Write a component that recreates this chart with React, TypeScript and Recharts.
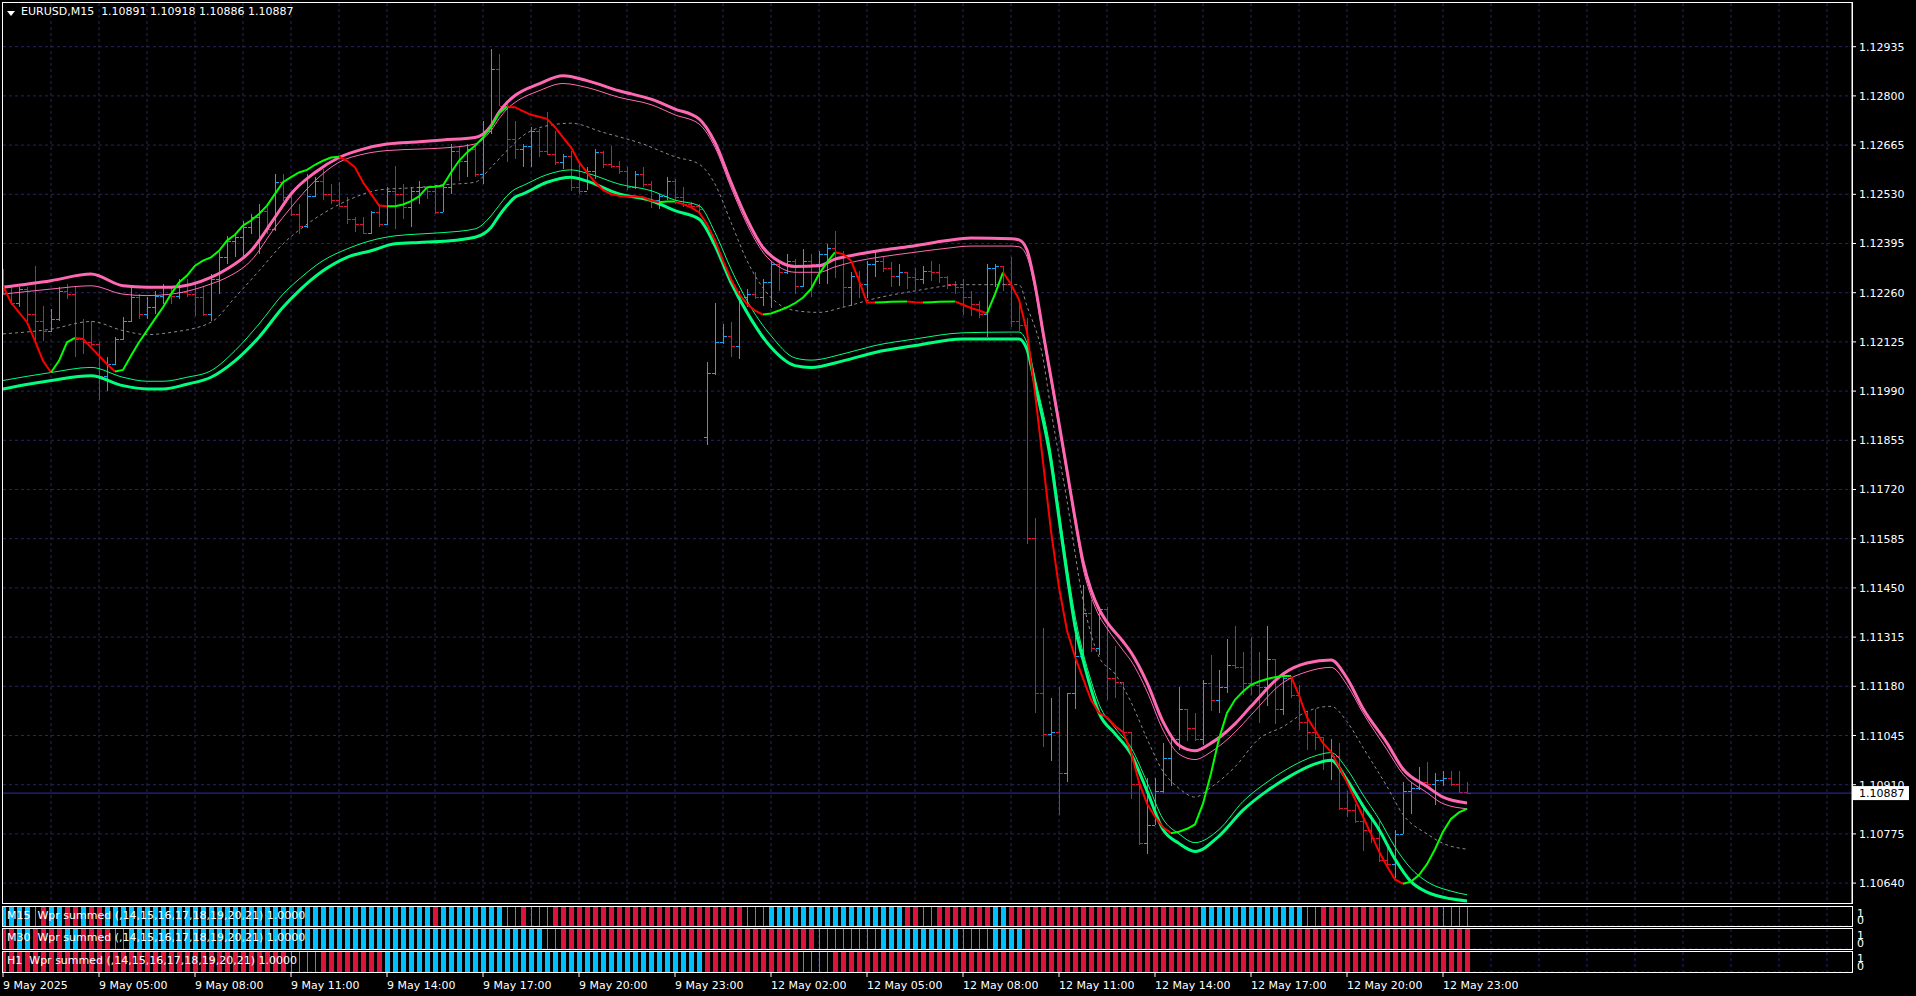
import React from 'react';
import { ComposedChart, Bar, Line, XAxis, YAxis, CartesianGrid, ReferenceLine } from 'recharts';

const FONT = '"DejaVu Sans", Verdana, sans-serif';
const CHART_W = 1916;
const AXIS_W = 64;
const X_DOMAIN: [number, number] = [0, 231.125];

const BULL = '#1aa6ee';
const BEAR = '#dc143c';
const STRIP_BLUE = '#00bfff';
const STRIP_GRAY = '#808080';
const GRID = '#24246e';
const PINK = '#ff69b4';
const SPRING = '#00ff7f';
const UP_LINE = '#00ff00';
const DN_LINE = '#ff0000';

// ---- axes ----
const priceTicks = [
  1.12935, 1.128, 1.12665, 1.1253, 1.12395, 1.1226, 1.12125, 1.1199, 1.11855,
  1.1172, 1.11585, 1.1145, 1.11315, 1.1118, 1.11045, 1.1091, 1.10775, 1.1064,
];
const priceDomain: [number, number] = [1.105854, 1.130549];
const lastPrice = 1.10887;
const header = 'EURUSD,M15  1.10891 1.10918 1.10886 1.10887';

const timeTickBars = [0, 12, 24, 36, 48, 60, 72, 84, 96, 108, 120, 132, 144, 156, 168, 180];
const timeTickLabels = [
  '9 May 2025', '9 May 05:00', '9 May 08:00', '9 May 11:00', '9 May 14:00', '9 May 17:00',
  '9 May 20:00', '9 May 23:00', '12 May 02:00', '12 May 05:00', '12 May 08:00', '12 May 11:00',
  '12 May 14:00', '12 May 17:00', '12 May 20:00', '12 May 23:00',
];
const gridBars = Array.from({ length: 38 }, (_, k) => (k + 1) * 6);

// ---- M15 bars ----
const opens = [
  1.12302, 1.12275, 1.12233, 1.1227, 1.12201, 1.12183, 1.12156, 1.12188, 1.12265, 1.12256,
  1.12133, 1.12124, 1.12119, 1.12032, 1.12064, 1.12133, 1.12183, 1.12247, 1.12201, 1.1222,
  1.12252, 1.12275, 1.12252, 1.12261, 1.12256, 1.12247, 1.12201, 1.12297, 1.12357, 1.12403,
  1.12412, 1.12439, 1.12467, 1.12485, 1.12435, 1.12563, 1.12522, 1.12476, 1.12444, 1.12526,
  1.12567, 1.12531, 1.12513, 1.12499, 1.12462, 1.12448, 1.12425, 1.12481, 1.12448, 1.1254,
  1.12531, 1.12494, 1.1254, 1.12549, 1.1254, 1.12481, 1.12549, 1.1265, 1.12622, 1.12654,
  1.12586, 1.12705, 1.12874, 1.12773, 1.12682, 1.12654, 1.12663, 1.12705, 1.1265, 1.1264,
  1.12618, 1.12636, 1.12549, 1.1254, 1.12595, 1.12645, 1.12613, 1.12608, 1.12595, 1.12549,
  1.12586, 1.12558, 1.12513, 1.12526, 1.12567, 1.12522, 1.12503, 1.12499, 1.11863, 1.12041,
  1.12124, 1.12142, 1.12115, 1.12247, 1.12256, 1.12247, 1.12288, 1.12339, 1.12316, 1.12348,
  1.12279, 1.12348, 1.12339, 1.12366, 1.12384, 1.12357, 1.12275, 1.12307, 1.12284, 1.12339,
  1.12348, 1.12329, 1.12307, 1.12316, 1.12302, 1.12297, 1.1232, 1.12316, 1.12302, 1.12284,
  1.12275, 1.12247, 1.12229, 1.12201, 1.12329, 1.12334, 1.12284, 1.12183, 1.1217, 1.11588,
  1.11161, 1.11048, 1.11054, 1.10941, 1.11161, 1.11262, 1.1138, 1.11285, 1.11392, 1.11203,
  1.11191, 1.11054, 1.10912, 1.10751, 1.10799, 1.10894, 1.10982, 1.11036, 1.11119, 1.11065,
  1.11036, 1.1119, 1.11143, 1.11178, 1.11238, 1.11232, 1.1119, 1.11184, 1.11178, 1.11256,
  1.11119, 1.11202, 1.11155, 1.11083, 1.11054, 1.11042, 1.10976, 1.10988, 1.10846, 1.1084,
  1.10811, 1.10787, 1.10763, 1.10704, 1.10692, 1.10775, 1.10894, 1.109, 1.10917, 1.10911,
  1.10923, 1.10929, 1.10912, 1.10891,
];
const highs = [
  1.12325, 1.1228, 1.12275, 1.12275, 1.12334, 1.12224, 1.12215, 1.12275, 1.12284, 1.12275,
  1.12188, 1.12183, 1.12124, 1.12083, 1.12138, 1.12192, 1.12275, 1.12256, 1.12247, 1.12265,
  1.12284, 1.12279, 1.12297, 1.12297, 1.12284, 1.12279, 1.12311, 1.12371, 1.12416, 1.12421,
  1.12458, 1.12476, 1.12503, 1.12494, 1.12586, 1.12586, 1.12531, 1.12503, 1.12586, 1.12577,
  1.12599, 1.12558, 1.12563, 1.12522, 1.12467, 1.12467, 1.12485, 1.12503, 1.12549, 1.12608,
  1.12558, 1.12549, 1.12567, 1.12554, 1.12549, 1.12558, 1.12668, 1.12663, 1.12668, 1.12663,
  1.12732, 1.12929, 1.12915, 1.12782, 1.12732, 1.12668, 1.12714, 1.12709, 1.12755, 1.12705,
  1.1264, 1.1265, 1.12613, 1.12604, 1.12654, 1.1265, 1.12663, 1.12622, 1.12604, 1.12595,
  1.12604, 1.12567, 1.12531, 1.12577, 1.12572, 1.12549, 1.12508, 1.12503, 1.12069, 1.12233,
  1.12174, 1.12179, 1.12265, 1.1227, 1.12316, 1.12297, 1.12348, 1.12348, 1.12366, 1.12352,
  1.1238, 1.12366, 1.12375, 1.12394, 1.1243, 1.12375, 1.12316, 1.1232, 1.12348, 1.12371,
  1.12357, 1.12343, 1.12339, 1.12316, 1.12329, 1.12334, 1.12348, 1.12339, 1.12307, 1.12293,
  1.12297, 1.12265, 1.12238, 1.12339, 1.12339, 1.12334, 1.12357, 1.12241, 1.1219, 1.11641,
  1.11339, 1.11149, 1.11178, 1.11161, 1.11321, 1.11457, 1.11416, 1.11398, 1.11398, 1.11291,
  1.11191, 1.11054, 1.10917, 1.10929, 1.10929, 1.11024, 1.11048, 1.11178, 1.11119, 1.11107,
  1.11196, 1.11267, 1.11226, 1.11309, 1.11345, 1.11273, 1.11315, 1.11273, 1.11345, 1.11256,
  1.11208, 1.11208, 1.11184, 1.11113, 1.11119, 1.11042, 1.11036, 1.11024, 1.10894, 1.10858,
  1.10846, 1.10828, 1.1081, 1.10745, 1.10787, 1.10917, 1.10917, 1.10959, 1.10971, 1.10941,
  1.10947, 1.10947, 1.10947, 1.10918,
];
const lows = [
  1.12256, 1.12224, 1.1222, 1.12183, 1.12128, 1.12128, 1.12151, 1.12183, 1.12243, 1.12083,
  1.12092, 1.12115, 1.11964, 1.11991, 1.1206, 1.12128, 1.12179, 1.12188, 1.12188, 1.12201,
  1.12229, 1.12229, 1.12243, 1.12247, 1.12197, 1.12197, 1.12183, 1.12256, 1.12339, 1.12357,
  1.12357, 1.12421, 1.12366, 1.12421, 1.1243, 1.12513, 1.12471, 1.12421, 1.12439, 1.12522,
  1.12513, 1.12503, 1.12494, 1.12448, 1.12425, 1.12421, 1.12421, 1.12439, 1.12444, 1.12435,
  1.12462, 1.12439, 1.12503, 1.12517, 1.12476, 1.12481, 1.12531, 1.12567, 1.12577, 1.12577,
  1.12558, 1.12695, 1.12773, 1.12618, 1.12627, 1.12604, 1.12604, 1.12631, 1.12636, 1.12613,
  1.12599, 1.1254, 1.12531, 1.1254, 1.12572, 1.12604, 1.12604, 1.12586, 1.1254, 1.12545,
  1.12549, 1.12494, 1.1249, 1.12513, 1.12503, 1.12494, 1.12494, 1.12481, 1.1184, 1.12035,
  1.12119, 1.12083, 1.12078, 1.1222, 1.12243, 1.12224, 1.1222, 1.12265, 1.12311, 1.12256,
  1.12275, 1.12247, 1.12284, 1.12284, 1.12302, 1.1222, 1.12224, 1.12247, 1.12247, 1.12302,
  1.12316, 1.12275, 1.12279, 1.1227, 1.1227, 1.12284, 1.12293, 1.12288, 1.1227, 1.12256,
  1.12197, 1.12197, 1.12192, 1.12138, 1.12275, 1.12265, 1.12165, 1.12155, 1.1157, 1.11107,
  1.11012, 1.10977, 1.10828, 1.10917, 1.11119, 1.11262, 1.11273, 1.11267, 1.11143, 1.11149,
  1.11048, 1.1087, 1.10745, 1.10721, 1.10799, 1.10888, 1.10906, 1.11006, 1.1103, 1.1103,
  1.11018, 1.11113, 1.11107, 1.11161, 1.11226, 1.11155, 1.11155, 1.11077, 1.11125, 1.11077,
  1.11101, 1.11149, 1.1106, 1.11006, 1.11006, 1.10952, 1.10923, 1.1084, 1.10822, 1.10805,
  1.10727, 1.10751, 1.10698, 1.1068, 1.10656, 1.10775, 1.10828, 1.10895, 1.10906, 1.10852,
  1.10906, 1.10906, 1.10888, 1.10886,
];
const closes = [
  1.12275, 1.12233, 1.1227, 1.12201, 1.12183, 1.12156, 1.12188, 1.12265, 1.12256, 1.12133,
  1.12124, 1.12119, 1.12032, 1.12064, 1.12133, 1.12183, 1.12247, 1.12201, 1.1222, 1.12252,
  1.12275, 1.12252, 1.12261, 1.12256, 1.12247, 1.12201, 1.12297, 1.12357, 1.12403, 1.12412,
  1.12439, 1.12467, 1.12485, 1.12435, 1.12563, 1.12522, 1.12476, 1.12444, 1.12526, 1.12567,
  1.12531, 1.12513, 1.12499, 1.12462, 1.12448, 1.12425, 1.12481, 1.12448, 1.1254, 1.12531,
  1.12494, 1.1254, 1.12549, 1.1254, 1.12481, 1.12549, 1.1265, 1.12622, 1.12654, 1.12586,
  1.12705, 1.12874, 1.12773, 1.12682, 1.12654, 1.12663, 1.12705, 1.1265, 1.1264, 1.12618,
  1.12636, 1.12549, 1.1254, 1.12595, 1.12645, 1.12613, 1.12608, 1.12595, 1.12549, 1.12586,
  1.12558, 1.12513, 1.12526, 1.12567, 1.12522, 1.12503, 1.12499, 1.1249, 1.12041, 1.12124,
  1.12142, 1.12115, 1.12247, 1.12256, 1.12247, 1.12288, 1.12339, 1.12316, 1.12348, 1.12279,
  1.12348, 1.12339, 1.12366, 1.12384, 1.12357, 1.12275, 1.12307, 1.12284, 1.12339, 1.12348,
  1.12329, 1.12307, 1.12316, 1.12302, 1.12297, 1.1232, 1.12316, 1.12302, 1.12284, 1.12275,
  1.12247, 1.12229, 1.12201, 1.12329, 1.12334, 1.12284, 1.12183, 1.1217, 1.11588, 1.11161,
  1.11048, 1.11054, 1.10941, 1.11161, 1.11262, 1.1138, 1.11285, 1.11392, 1.11203, 1.11191,
  1.11054, 1.10912, 1.10751, 1.10799, 1.10894, 1.10982, 1.11036, 1.11119, 1.11065, 1.11036,
  1.1119, 1.11143, 1.11178, 1.11238, 1.11232, 1.1119, 1.11184, 1.11178, 1.11256, 1.11119,
  1.11202, 1.11155, 1.11083, 1.11054, 1.11042, 1.10976, 1.10988, 1.10846, 1.1084, 1.10811,
  1.10787, 1.10763, 1.10704, 1.10692, 1.10775, 1.10894, 1.109, 1.10917, 1.10911, 1.10923,
  1.10929, 1.10912, 1.10891, 1.10887,
];

// ---- envelope lines: [bar, price] ----
const upperBand = [
  [0, 1.12275], [6, 1.12293], [11, 1.12311], [15, 1.12279], [18, 1.12275], [21, 1.12275], [26, 1.12302],
  [28, 1.12325], [31, 1.12375], [34, 1.12467], [36, 1.12531], [39, 1.1259], [42, 1.12631], [45, 1.12654],
  [48, 1.12668], [52, 1.12674], [55, 1.12679], [59, 1.12686], [61, 1.12718], [62, 1.12755], [63, 1.12782],
  [64, 1.12801], [67, 1.12833], [70, 1.12855], [73, 1.12842], [77, 1.12814], [81, 1.12791], [84, 1.12764],
  [87, 1.12737], [89, 1.12672], [91, 1.12563], [93, 1.12462], [95, 1.12384], [97, 1.12346], [99, 1.12332],
  [102, 1.12334], [104, 1.12352], [107, 1.12366], [110, 1.12377], [114, 1.12389], [118, 1.12403],
  [121, 1.1241], [126, 1.12408], [127, 1.12405], [128, 1.12377], [129, 1.12282], [130, 1.12152],
  [131, 1.12027], [132, 1.11902], [133, 1.11772], [134, 1.11641], [135, 1.11523], [136, 1.11445],
  [137, 1.11392], [138, 1.11356], [140, 1.11303], [141, 1.11273], [143, 1.1119], [145, 1.11083],
  [147, 1.11018], [149, 1.11003], [151, 1.11024], [154, 1.11077], [156, 1.11125], [160, 1.11214],
  [163, 1.11244], [166, 1.11252], [168, 1.11202], [170, 1.11119], [173, 1.11024], [175, 1.10953],
  [178, 1.10905], [180, 1.10876], [183, 1.1086],
];
const upperInner = [
  [0, 1.12256], [6, 1.1227], [11, 1.12279], [15, 1.12256], [18, 1.12252], [21, 1.12256], [26, 1.12284],
  [28, 1.12302], [31, 1.12348], [34, 1.12439], [36, 1.12494], [39, 1.12567], [42, 1.12618], [45, 1.1264],
  [48, 1.1265], [52, 1.12654], [55, 1.12657], [59, 1.12668], [61, 1.12705], [62, 1.12737], [63, 1.12764],
  [64, 1.12782], [67, 1.12814], [70, 1.12834], [73, 1.12823], [77, 1.12796], [81, 1.12776], [84, 1.12748],
  [87, 1.12723], [89, 1.12659], [91, 1.12549], [93, 1.12448], [95, 1.12371], [97, 1.12331], [99, 1.12316],
  [102, 1.12316], [104, 1.12331], [107, 1.12348], [110, 1.12359], [114, 1.12371], [118, 1.12382],
  [121, 1.12388], [126, 1.12388], [127, 1.12386], [128, 1.12359], [129, 1.1227], [130, 1.1214],
  [131, 1.12015], [132, 1.11891], [133, 1.1176], [134, 1.1163], [135, 1.11505], [136, 1.11428],
  [137, 1.11374], [138, 1.11339], [140, 1.11279], [141, 1.1125], [143, 1.11166], [145, 1.1106],
  [147, 1.10994], [149, 1.10979], [151, 1.11], [154, 1.11054], [156, 1.11101], [160, 1.1119],
  [163, 1.1122], [166, 1.11232], [168, 1.11184], [170, 1.11107], [173, 1.11006], [175, 1.10939],
  [178, 1.10888], [180, 1.10858], [183, 1.10844],
];
const middleLine = [
  [0, 1.12147], [6, 1.1216], [11, 1.12181], [15, 1.12156], [18, 1.12145], [21, 1.12151], [26, 1.12179],
  [29, 1.12247], [32, 1.1232], [35, 1.12394], [38, 1.12448], [41, 1.1249], [44, 1.12522], [47, 1.12542],
  [52, 1.12549], [55, 1.12556], [59, 1.12563], [61, 1.12604], [63, 1.1265], [65, 1.12691], [68, 1.12718],
  [71, 1.12725], [75, 1.127], [80, 1.12668], [84, 1.12633], [87, 1.12613], [89, 1.12558], [91, 1.12453],
  [93, 1.12348], [96, 1.12247], [99, 1.12211], [102, 1.12206], [105, 1.1222], [109, 1.12244],
  [114, 1.12265], [120, 1.12282], [126, 1.12282], [127, 1.12282], [128, 1.12223], [130, 1.1208],
  [131, 1.11938], [133, 1.11689], [135, 1.11416], [137, 1.11261], [139, 1.11214], [141, 1.11137],
  [143, 1.11036], [145, 1.10947], [147, 1.109], [149, 1.10876], [151, 1.10903], [154, 1.10959],
  [157, 1.11036], [160, 1.11069], [163, 1.11111], [166, 1.11125], [168, 1.11083], [170, 1.11012],
  [173, 1.10905], [175, 1.10828], [178, 1.10775], [180, 1.10749], [183, 1.10733],
];
const lowerBand = [
  [0, 1.11996], [6, 1.12019], [11, 1.12032], [15, 1.12005], [18, 1.11996], [20, 1.11996], [23, 1.12009],
  [26, 1.12028], [29, 1.12073], [32, 1.12138], [35, 1.1222], [37, 1.12265], [40, 1.1232], [43, 1.12357],
  [46, 1.12375], [49, 1.12394], [52, 1.12398], [55, 1.12401], [59, 1.12412], [61, 1.12439], [62, 1.12471],
  [63, 1.12499], [64, 1.12522], [65, 1.12531], [68, 1.12563], [71, 1.12577], [73, 1.12566], [77, 1.12531],
  [81, 1.12513], [84, 1.12485], [87, 1.12462], [89, 1.12389], [91, 1.12288], [93, 1.12206], [96, 1.1211],
  [99, 1.1206], [101, 1.12055], [105, 1.12073], [109, 1.12096], [114, 1.12115], [120, 1.12133],
  [126, 1.12133], [127, 1.12133], [128, 1.12104], [129, 1.12009], [131, 1.11796], [132, 1.11641],
  [133, 1.11487], [134, 1.11345], [135, 1.11253], [136, 1.11173], [137, 1.11107], [139, 1.1105],
  [141, 1.10994], [143, 1.10893], [145, 1.10787], [147, 1.10749], [149, 1.10727], [152, 1.10769],
  [155, 1.1084], [158, 1.10893], [161, 1.10935], [164, 1.10967], [166, 1.10977], [168, 1.10923],
  [170, 1.10852], [172, 1.10787], [174, 1.10706], [176, 1.10644], [178, 1.10615], [181, 1.10597],
  [183, 1.10591],
];
const lowerInner = [
  [0, 1.12019], [6, 1.12041], [11, 1.12055], [15, 1.12028], [18, 1.12017], [20, 1.12017], [23, 1.12028],
  [26, 1.12046], [29, 1.12101], [32, 1.12174], [35, 1.12256], [37, 1.12297], [40, 1.12348], [43, 1.1238],
  [46, 1.12403], [49, 1.12416], [52, 1.12421], [55, 1.12425], [59, 1.12435], [61, 1.12471], [62, 1.12499],
  [63, 1.12526], [64, 1.12544], [65, 1.12554], [68, 1.12584], [71, 1.12597], [73, 1.12588], [77, 1.12558],
  [81, 1.1254], [84, 1.12514], [87, 1.12499], [89, 1.12425], [91, 1.12325], [93, 1.12238], [96, 1.12142],
  [99, 1.12081], [101, 1.12075], [105, 1.12092], [109, 1.12115], [114, 1.12133], [120, 1.1215],
  [126, 1.12152], [127, 1.12152], [128, 1.12122], [129, 1.12027], [131, 1.11819], [132, 1.11665],
  [133, 1.11511], [134, 1.11374], [135, 1.11273], [136, 1.11196], [137, 1.11131], [139, 1.11066],
  [141, 1.11012], [143, 1.10917], [145, 1.10816], [147, 1.10775], [149, 1.10751], [152, 1.10787],
  [155, 1.10864], [158, 1.10917], [161, 1.10959], [164, 1.10989], [166, 1.10998], [168, 1.10953],
  [170, 1.10882], [172, 1.10816], [174, 1.10739], [176, 1.1068], [178, 1.10644], [181, 1.10618],
  [183, 1.10608],
];

// signal line; colour flips at each bar listed in mainTurns (starts falling/red)
const mainLine = [
  [0, 1.12279], [1, 1.12233], [3, 1.12179], [4, 1.12128], [5, 1.12073], [6, 1.12041], [7, 1.12073],
  [8, 1.12124], [9, 1.12136], [10, 1.12133], [11, 1.1211], [12, 1.12087], [13, 1.12064], [14, 1.12044],
  [15, 1.12048], [16, 1.12087], [17, 1.12124], [18, 1.12156], [19, 1.12188], [20, 1.1222], [21, 1.12256],
  [22, 1.12288], [23, 1.12307], [24, 1.12334], [25, 1.12348], [26, 1.12357], [27, 1.12375], [28, 1.12403],
  [29, 1.12419], [30, 1.12444], [31, 1.12458], [32, 1.12476], [33, 1.12499], [34, 1.12531], [35, 1.12563],
  [36, 1.12577], [37, 1.1259], [38, 1.12597], [39, 1.12611], [40, 1.12622], [41, 1.12631], [42, 1.12633],
  [43, 1.12622], [44, 1.12604], [45, 1.12563], [46, 1.12531], [47, 1.12499], [48, 1.12497], [49, 1.12497],
  [50, 1.12502], [51, 1.12511], [52, 1.12524], [53, 1.12549], [54, 1.12551], [55, 1.12554], [56, 1.1259],
  [57, 1.12622], [58, 1.12645], [59, 1.12663], [60, 1.12686], [61, 1.12714], [62, 1.12752], [63, 1.1277],
  [64, 1.12769], [65, 1.12758], [66, 1.12748], [67, 1.12743], [68, 1.12737], [69, 1.12714], [70, 1.12686],
  [71, 1.12659], [72, 1.12618], [73, 1.1259], [74, 1.12563], [75, 1.12542], [76, 1.12531], [77, 1.12526],
  [78, 1.12524], [79, 1.12524], [80, 1.12522], [81, 1.12513], [82, 1.12508], [83, 1.1251], [84, 1.1251],
  [85, 1.12503], [86, 1.12494], [87, 1.12481], [88, 1.12448], [89, 1.12403], [90, 1.12348], [91, 1.12297],
  [92, 1.12256], [93, 1.12229], [94, 1.12211], [95, 1.122], [96, 1.12203], [97, 1.12211], [98, 1.1222],
  [99, 1.12231], [100, 1.12247], [101, 1.1227], [102, 1.12311], [103, 1.12343], [104, 1.12371],
  [105, 1.12366], [106, 1.12348], [107, 1.12293], [108, 1.12233], [109, 1.12233], [110, 1.12234],
  [111, 1.12235], [113, 1.12236], [114, 1.12234], [115, 1.12233], [116, 1.12234], [117, 1.12235],
  [119, 1.12236], [120, 1.12227], [121, 1.12218], [122, 1.12211], [123, 1.12203], [124, 1.12256],
  [125, 1.12316], [126, 1.12283], [127, 1.12241], [128, 1.12152], [129, 1.11986], [130, 1.11796],
  [131, 1.11606], [132, 1.11451], [133, 1.11333], [134, 1.11261], [135, 1.11202], [136, 1.11143],
  [137, 1.11107], [138, 1.11095], [139, 1.11071], [140, 1.11054], [141, 1.11], [142, 1.10917],
  [143, 1.10858], [144, 1.10822], [145, 1.10793], [146, 1.10777], [147, 1.10781], [148, 1.10789],
  [149, 1.10801], [150, 1.10858], [151, 1.10941], [152, 1.11036], [153, 1.11107], [154, 1.11143],
  [155, 1.11166], [156, 1.11184], [157, 1.11193], [158, 1.112], [159, 1.11205], [160, 1.11208],
  [161, 1.11208], [162, 1.11155], [163, 1.11095], [164, 1.1106], [165, 1.11024], [166, 1.11],
  [167, 1.10959], [168, 1.10917], [169, 1.1087], [170, 1.10822], [171, 1.10775], [172, 1.10727],
  [173, 1.10686], [174, 1.1065], [175, 1.10638], [176, 1.10644], [177, 1.10662], [178, 1.10692],
  [179, 1.10733], [180, 1.10781], [181, 1.10816], [182, 1.10834], [183, 1.10844],
];
const mainTurns = [6, 9, 14, 42, 48, 63, 82, 84, 95, 104, 109, 113, 115, 119, 123, 125, 146, 161, 175];

// ---- Wpr summed strips (B up, R down, G neutral), run lengths ----
const m15Runs: [string, number][] = [
  ['B', 4], ['G', 1], ['R', 1], ['B', 2], ['R', 2], ['B', 1], ['R', 2], ['B', 41], ['R', 1], ['B', 8],
  ['G', 2], ['R', 1], ['G', 3], ['R', 24], ['G', 3], ['B', 17], ['R', 2], ['G', 2], ['R', 7], ['B', 2],
  ['R', 24], ['B', 13], ['G', 2], ['R', 15], ['G', 4],
];
const m30Runs: [string, number][] = [
  ['R', 2], ['B', 2], ['R', 4], ['B', 2], ['R', 4], ['G', 2], ['B', 52], ['G', 2], ['R', 32], ['G', 8],
  ['B', 10], ['G', 4], ['B', 4], ['R', 56],
];
const h1Runs: [string, number][] = [
  ['R', 36], ['G', 4], ['R', 8], ['B', 40], ['R', 12], ['G', 4], ['R', 80],
];

const strips = [
  { name: 'M15', runs: m15Runs, top: 906, height: 21 },
  { name: 'M30', runs: m30Runs, top: 928, height: 22 },
  { name: 'H1', runs: h1Runs, top: 951, height: 22 },
];
const stripCaption = 'Wpr summed (,14,15,16,17,18,19,20,21) 1.0000';

const candles = opens.map((o, i) => ({
  i, o, h: highs[i], l: lows[i], c: closes[i], range: [lows[i], highs[i]],
}));

const toPts = (arr: number[][]) => arr.map(([i, v]) => ({ i, v }));

const mainSegments = (() => {
  const cuts = [0, ...mainTurns, 183];
  return cuts.slice(0, -1).map((a, k) => ({
    up: k % 2 === 1,
    pts: toPts(mainLine.filter(([i]) => i >= a && i <= cuts[k + 1])),
  }));
})();

const expandRuns = (runs: [string, number][]) => {
  const out: { i: number; v: number; s: string }[] = [];
  runs.forEach(([s, n]) => {
    for (let k = 0; k < n; k++) out.push({ i: out.length, v: 1, s });
  });
  return out;
};

const Candle = (props: any) => {
  const { x, y, width, height, payload } = props;
  if (!payload || !isFinite(y)) return null;
  const cx = Math.round(x + width / 2);
  const span = payload.h - payload.l;
  const yAt = (p: number) => (span > 0 ? y + ((payload.h - p) / span) * height : y);
  const color = payload.c >= payload.o ? BULL : BEAR;
  return (
    <g shapeRendering="crispEdges">
      <rect x={cx} y={Math.round(y)} width={1} height={Math.max(1, Math.round(height))} fill={color} />
      <rect x={cx - 3} y={Math.round(yAt(payload.o))} width={3} height={1} fill={color} />
      <rect x={cx + 1} y={Math.round(yAt(payload.c))} width={3} height={1} fill={color} />
    </g>
  );
};

const StripBar = (props: any) => {
  const { x, y, width, height, payload } = props;
  if (!payload) return null;
  const cx = Math.round(x + width / 2);
  if (payload.s === 'G') {
    return <rect x={cx} y={y} width={1} height={height} fill={STRIP_GRAY} shapeRendering="crispEdges" />;
  }
  return (
    <rect x={cx - 2} y={y} width={5} height={height} fill={payload.s === 'B' ? STRIP_BLUE : BEAR}
      shapeRendering="crispEdges" />
  );
};

const PriceTick = ({ x, y, payload }: any) => (
  <text x={x} y={y} dy={4} fill="#fff" fontSize={11} fontFamily={FONT} textAnchor="start">
    {payload.value.toFixed(5)}
  </text>
);

// MT4 squeezes the 1 and 0 levels of the thin strips so they overlap
const LevelTick = ({ x, y, payload }: any) => (
  <text x={x} y={y} dy={payload.value === 1 ? 10 : -2} fill="#fff" fontSize={11} fontFamily={FONT}
    textAnchor="start">
    {payload.value}
  </text>
);

const TimeTick = ({ x, y, payload }: any) => (
  <text x={x} y={y} dy={12} fill="#fff" fontSize={11} fontFamily={FONT} textAnchor="start">
    {timeTickLabels[timeTickBars.indexOf(payload.value)]}
  </text>
);

const PriceTag = ({ viewBox }: any) => {
  if (!viewBox) return null;
  const { x, y, width } = viewBox;
  return (
    <g>
      <rect x={x + width + 1} y={y - 7} width={56} height={14} fill="#fff" />
      <text x={x + width + 7} y={y + 4} fill="#000" fontSize={11} fontFamily={FONT}>
        {lastPrice.toFixed(5)}
      </text>
    </g>
  );
};

const frameStyle = (top: number, height: number): React.CSSProperties => ({
  position: 'absolute', left: 2, top, width: 1851, height, border: '1px solid #fff',
  boxSizing: 'border-box', pointerEvents: 'none',
});

const textStyle: React.CSSProperties = {
  position: 'absolute', color: '#fff', fontFamily: FONT, fontSize: 11, lineHeight: '14px',
  whiteSpace: 'pre',
};

export default function App() {
  return (
    <div style={{ position: 'fixed', left: 0, top: 0, width: 1916, height: 996, background: '#000', overflow: 'hidden' }}>
      <div style={{ position: 'absolute', left: 0, top: 0 }}>
        <ComposedChart width={CHART_W} height={906} data={candles}
          margin={{ top: 3, right: 0, bottom: 3, left: 3 }}>
          <CartesianGrid stroke={GRID} strokeDasharray="3 3" horizontalValues={priceTicks}
            verticalValues={gridBars} />
          <XAxis dataKey="i" type="number" domain={X_DOMAIN} allowDataOverflow ticks={gridBars} hide />
          <YAxis orientation="right" width={AXIS_W} type="number" domain={priceDomain} allowDataOverflow
            ticks={priceTicks} interval={0} tick={<PriceTick />} tickSize={4} tickMargin={3}
            axisLine={{ stroke: '#fff' }} tickLine={{ stroke: '#fff' }} />
          <ReferenceLine y={lastPrice} stroke="#2e2eb0" strokeWidth={1} label={<PriceTag />} />
          <Bar dataKey="range" barSize={5} shape={<Candle />} isAnimationActive={false} />
          <Line data={toPts(upperInner)} dataKey="v" type="monotone" stroke={PINK} strokeWidth={1}
            dot={false} activeDot={false} isAnimationActive={false} />
          <Line data={toPts(upperBand)} dataKey="v" type="monotone" stroke={PINK} strokeWidth={3}
            dot={false} activeDot={false} isAnimationActive={false} />
          <Line data={toPts(lowerInner)} dataKey="v" type="monotone" stroke={SPRING} strokeWidth={1}
            dot={false} activeDot={false} isAnimationActive={false} />
          <Line data={toPts(lowerBand)} dataKey="v" type="monotone" stroke={SPRING} strokeWidth={3}
            dot={false} activeDot={false} isAnimationActive={false} />
          <Line data={toPts(middleLine)} dataKey="v" type="monotone" stroke="#8c8c8c" strokeWidth={1}
            strokeDasharray="3 3" dot={false} activeDot={false} isAnimationActive={false} />
          {mainSegments.map((seg, k) => (
            <Line key={k} data={seg.pts} dataKey="v" type="linear" stroke={seg.up ? UP_LINE : DN_LINE}
              strokeWidth={2} dot={false} activeDot={false} isAnimationActive={false} />
          ))}
        </ComposedChart>
      </div>
      <div style={frameStyle(2, 902)} />
      <div style={{ position: 'absolute', left: 7, top: 11, width: 0, height: 0, borderLeft: '4px solid transparent',
        borderRight: '4px solid transparent', borderTop: '5px solid #fff' }} />
      <div style={{ ...textStyle, left: 21, top: 5 }}>{header}</div>

      {strips.map((st, k) => {
        const last = k === strips.length - 1;
        const plotH = st.height - 2;
        return (
          <React.Fragment key={st.name}>
            <div style={{ position: 'absolute', left: 0, top: st.top }}>
              <ComposedChart width={CHART_W} height={1 + plotH + (last ? 24 : 1)} data={expandRuns(st.runs)}
                margin={{ top: 1, right: 0, bottom: last ? 0 : 1, left: 3 }} style={{ overflow: 'visible' }}>
                <CartesianGrid stroke={GRID} strokeDasharray="3 3" horizontalValues={[0]}
                  verticalValues={gridBars} />
                <XAxis dataKey="i" type="number" domain={X_DOMAIN} allowDataOverflow hide={!last}
                  ticks={last ? timeTickBars : gridBars} interval={0} height={last ? 24 : 0}
                  axisLine={false} tickLine={{ stroke: '#fff' }} tickSize={5} tickMargin={0}
                  tick={<TimeTick />} />
                <YAxis orientation="right" width={AXIS_W} type="number" domain={[0, 1]} ticks={[0, 1]}
                  interval={0} tick={<LevelTick />} tickSize={0} tickMargin={5} axisLine={false} />
                <Bar dataKey="v" barSize={5} shape={<StripBar />} isAnimationActive={false} />
              </ComposedChart>
            </div>
            <div style={frameStyle(st.top, st.height)} />
            <div style={{ ...textStyle, left: 7, top: st.top + 3 }}>{`${st.name}  ${stripCaption}`}</div>
          </React.Fragment>
        );
      })}
    </div>
  );
}
